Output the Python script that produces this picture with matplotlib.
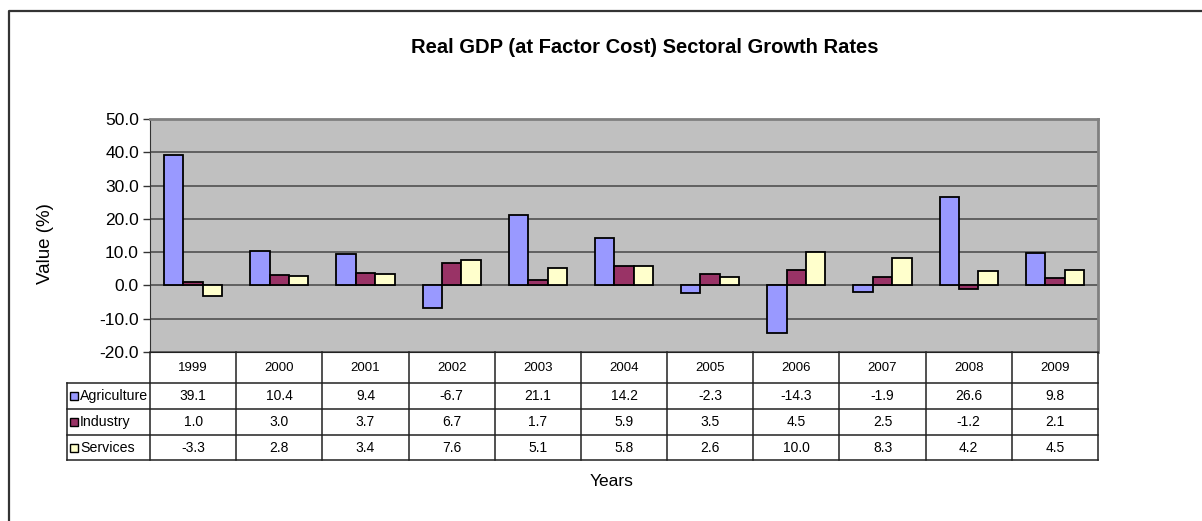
import numpy as np
import matplotlib
matplotlib.use("Agg")
import matplotlib.pyplot as plt
from matplotlib.lines import Line2D
from matplotlib import font_manager

years = ["1999", "2000", "2001", "2002", "2003", "2004", "2005", "2006", "2007", "2008", "2009"]
series_names = ["Agriculture", "Industry", "Services"]
agriculture = [39.1, 10.4, 9.4, -6.7, 21.1, 14.2, -2.3, -14.3, -1.9, 26.6, 9.8]
industry = [1.0, 3.0, 3.7, 6.7, 1.7, 5.9, 3.5, 4.5, 2.5, -1.2, 2.1]
services = [-3.3, 2.8, 3.4, 7.6, 5.1, 5.8, 2.6, 10.0, 8.3, 4.2, 4.5]
colors = ["#9999ff", "#993366", "#ffffcc"]
title = "Real GDP (at Factor Cost) Sectoral Growth Rates"

names = {f.name for f in font_manager.fontManager.ttflist}
base = "Liberation Sans" if "Liberation Sans" in names else "DejaVu Sans"
narrow = "Liberation Sans Narrow" if "Liberation Sans Narrow" in names else base
plt.rcParams["font.family"] = [base, "DejaVu Sans"]

W, H = 1202, 521
fig = plt.figure(figsize=(W / 100, H / 100), dpi=100)

def fx(px):
    return px / W

def fy(py):
    return 1 - py / H

# plot area
L, R, T, B = 150, 1098, 119, 352
ax = fig.add_axes([fx(L), fy(B), fx(R - L), (B - T) / H])
ax.set_facecolor("#c0c0c0")
x = np.arange(len(years))
bw = 0.225
data = [agriculture, industry, services]
for i, (vals, c) in enumerate(zip(data, colors)):
    ax.bar(x + (i - 1) * bw, vals, width=bw, color=c, edgecolor="black",
           linewidth=1.3, zorder=3)
ax.set_xlim(-0.5, len(years) - 0.5)
ax.set_ylim(-20, 50)
ax.set_yticks(np.arange(-20, 51, 10))
ax.set_yticklabels([f"{v:.1f}" for v in np.arange(-20, 51, 10)], fontsize=12.5)
ax.yaxis.grid(True, color="#505050", linewidth=1.2, zorder=1)
ax.set_axisbelow(True)
ax.set_xticks([])
ax.tick_params(axis="y", length=5, width=1, color="#333333", pad=3)
ax.spines["left"].set_color("#333333")
ax.spines["bottom"].set_color("#222222")
ax.spines["top"].set_color("#808080")
ax.spines["top"].set_linewidth(2)
ax.spines["right"].set_color("#808080")
ax.spines["right"].set_linewidth(2)

# data table
unit = (R - L) / len(years)
TL = 67
tax = fig.add_axes([fx(TL), fy(460), fx(R - TL), (460 - B) / H])
xl = -0.5 - (L - TL) / unit
tax.set_xlim(xl, len(years) - 0.5)
tax.set_ylim(460, B)
tax.axis("off")
row_edges = [B, 383, 409, 435, 460]
lc = "#222222"
for i in range(len(years) + 1):
    tax.plot([-0.5 + i, -0.5 + i], [B, 460], color=lc, lw=1.1, clip_on=False)
tax.plot([xl, xl], [383, 460], color=lc, lw=1.1, clip_on=False)
for yy in row_edges[1:]:
    tax.plot([xl, len(years) - 0.5], [yy, yy], color=lc, lw=1.1, clip_on=False)
for j, yr in enumerate(years):
    tax.text(j, (row_edges[0] + row_edges[1]) / 2, yr, ha="center", va="center",
             fontsize=9.5, family=[narrow, base])
for r, (name, vals, c) in enumerate(zip(series_names, data, colors)):
    yc = (row_edges[r + 1] + row_edges[r + 2]) / 2
    tax.plot([xl + 7.5 / unit], [yc], marker="s", markersize=5.5, color=c,
             markeredgecolor="black", markeredgewidth=1, clip_on=False)
    tax.text(xl + 13 / unit, yc, name, ha="left", va="center", fontsize=10.2,
             family=[narrow, base])
    for j, v in enumerate(vals):
        tax.text(j, yc, f"{v:.1f}", ha="center", va="center", fontsize=10,
                 family=[narrow, base])

# titles
fig.text(fx(645), fy(47), title, ha="center", va="center", fontsize=14.5,
         fontweight="bold")
fig.text(fx(612), fy(481), "Years", ha="center", va="center", fontsize=12.5)
fig.text(fx(46), fy(244), "Value (%)", ha="center", va="center", fontsize=13.5,
         rotation=90)

# outer frame
fig.add_artist(Line2D([fx(9), fx(9), fx(1202)], [fy(521), fy(11), fy(11)],
                      transform=fig.transFigure, color="#333333", lw=1.6))

fig.savefig("out.png", dpi=100)
